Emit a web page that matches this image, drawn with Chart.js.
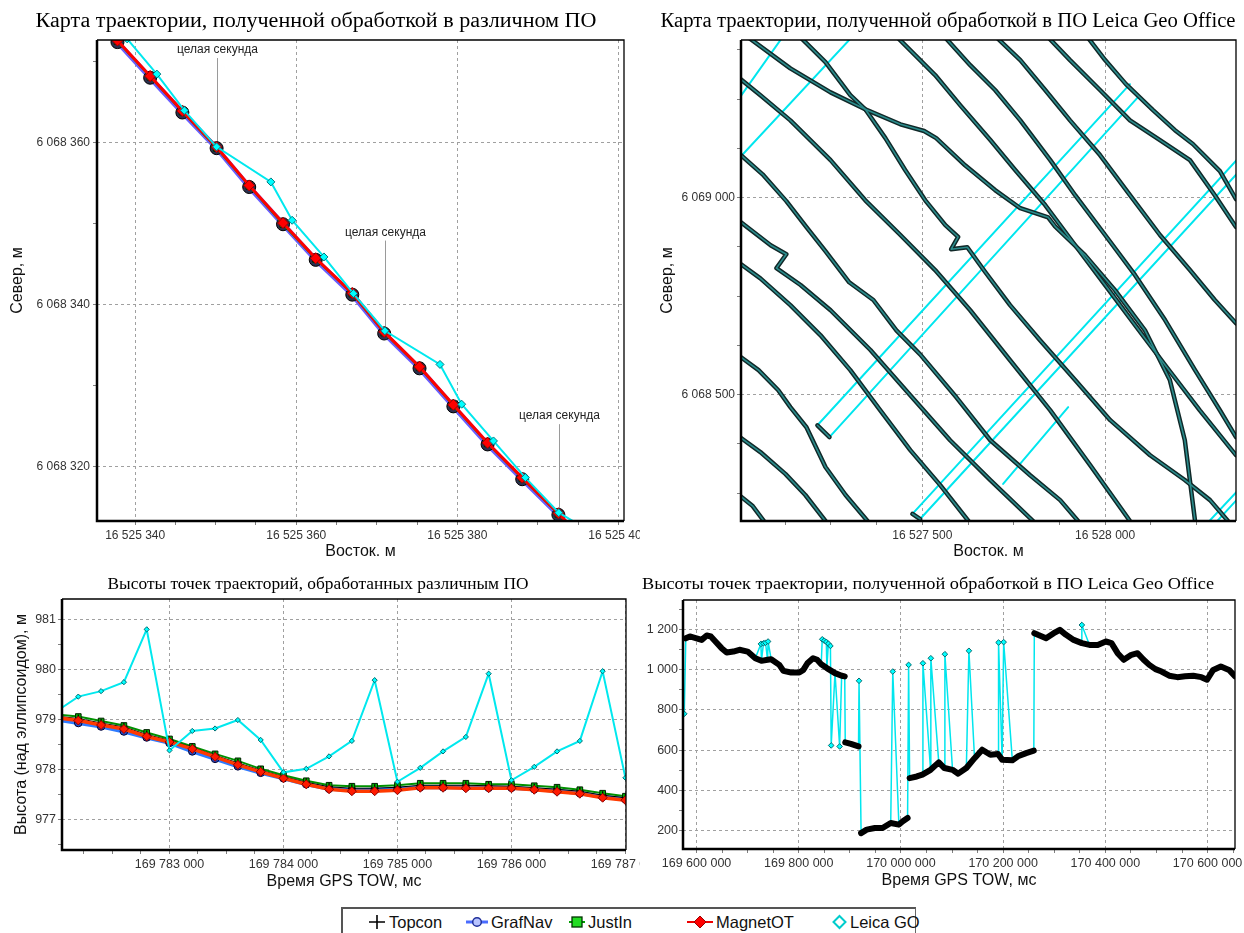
<!DOCTYPE html>
<html><head><meta charset="utf-8">
<script src="https://cdn.jsdelivr.net/npm/chart.js@4.4.1/dist/chart.umd.min.js"></script>
<style>
html,body{margin:0;padding:0;background:#fff;width:1244px;height:933px;overflow:hidden;position:relative;}
.box{position:absolute;overflow:hidden;}
.box canvas{display:block;}
#legend{position:absolute;left:341px;top:907px;width:575px;height:30px;box-sizing:border-box;border:1px solid #666;border-left:2px solid #555;border-top:2px solid #555;font:16.5px 'Liberation Sans',Arial,sans-serif;color:#111;background:#fff;}
#legend .li{position:absolute;top:0;height:26px;display:flex;align-items:center;gap:2px;white-space:nowrap;}
#legend svg{display:block;}
</style></head>
<body>
<div class="box" style="left:0;top:0;width:640px;height:570px"><canvas id="c1" width="670" height="570"></canvas></div>
<div class="box" style="left:640px;top:0;width:604px;height:570px"><canvas id="c2" width="604" height="570"></canvas></div>
<div class="box" style="left:0;top:570px;width:640px;height:330px"><canvas id="c3" width="670" height="330"></canvas></div>
<div class="box" style="left:640px;top:570px;width:604px;height:330px"><canvas id="c4" width="604" height="330"></canvas></div>
<div id="legend">
 <div class="li" style="left:24px"><svg width="20" height="16"><path d="M2 8H18M10 1V15" stroke="#000" stroke-width="1.6"/></svg><span>Topcon</span></div>
 <div class="li" style="left:122px"><svg width="24" height="16"><path d="M1 8H23" stroke="#4a6cff" stroke-width="3"/><circle cx="12" cy="8" r="4.3" fill="#b8c4ff" stroke="#1f2f9a" stroke-width="1.5"/></svg><span>GrafNav</span></div>
 <div class="li" style="left:225px"><svg width="18" height="16"><path d="M1 8H17" stroke="#00a000" stroke-width="2"/><rect x="4" y="3" width="10" height="10" fill="#22dd22" stroke="#003300" stroke-width="1.3"/></svg><span>JustIn</span></div>
 <div class="li" style="left:343px"><svg width="28" height="16"><path d="M1 8H27" stroke="#ee0000" stroke-width="2"/><path d="M14 2L20 8L14 14L8 8Z" fill="#ff0000" stroke="#990000"/></svg><span>MagnetOT</span></div>
 <div class="li" style="left:488px"><svg width="17" height="16"><path d="M8.5 2L14.5 8L8.5 14L2.5 8Z" fill="#fff" stroke="#00cccc" stroke-width="2"/></svg><span>Leica GO</span></div>
</div>
<script>
// ---------------- DATA ----------------
// Chart 1: trajectory map, different software (East / North, m)
const mapEastMain = [16525333.7, 16525337.8, 16525341.86, 16525345.86, 16525350.11, 16525354.16, 16525358.36, 16525362.42, 16525366.96, 16525370.92, 16525375.31, 16525379.51, 16525383.76, 16525388.06, 16525392.55, 16525396.8];
const topconNorth  = [6068377.1, 6068372.6, 6068368.21, 6068363.88, 6068359.46, 6068354.72, 6068350.06, 6068345.73, 6068341.4, 6068336.62, 6068332.29, 6068327.63, 6068322.93, 6068318.64, 6068314.23, 6068309.8];
const grafnavNorth = [6068376.9, 6068372.4, 6068368.0, 6068363.7, 6068359.3, 6068354.5, 6068349.9, 6068345.5, 6068341.2, 6068336.4, 6068332.1, 6068327.4, 6068322.7, 6068318.4, 6068314.0, 6068309.6];
const justinNorth  = [6068377.0, 6068372.5, 6068368.1, 6068363.8, 6068359.3, 6068354.6, 6068349.9, 6068345.6, 6068341.3, 6068336.5, 6068332.2, 6068327.5, 6068322.8, 6068318.5, 6068314.1, 6068309.7];
const magnetNorth  = [6068377.1, 6068372.6, 6068368.2, 6068363.9, 6068359.45, 6068354.7, 6068350.05, 6068345.7, 6068341.4, 6068336.6, 6068332.3, 6068327.6, 6068322.9, 6068318.6, 6068314.2, 6068309.8];
const leicaMapEast  = [16525337.2, 16525339.0, 16525342.69, 16525346.1, 16525350.11, 16525356.85, 16525359.49, 16525363.44, 16525367.1, 16525371.01, 16525377.85, 16525380.54, 16525384.49, 16525388.45, 16525392.6, 16525399.5];
const leicaMapNorth = [6068377.4, 6068372.8, 6068368.45, 6068363.96, 6068359.46, 6068355.13, 6068350.39, 6068345.86, 6068341.34, 6068336.74, 6068332.58, 6068327.67, 6068323.13, 6068318.6, 6068314.27, 6068310.2];
const secondLabel = 'целая секунда';
const secondEast = [16525350.11, 16525371.0, 16525392.6];
const secondLabelNorth = [6068371.42, 6068348.87, 6068326.19];
const secondPointNorth = [6068359.46, 6068336.7, 6068314.25];

// Chart 2: Leica Geo Office trajectory map (dark survey lines)
const lgoTrackEast = [
 [16526989,16527036,16527085],
 [16526989,16527057,16527126,16527180,16527235,16527254],
 [16526989,16527052,16527106,16527139,16527183,16527235,16527290,16527350,16527366],
 [16526989,16527057,16527139,16527221,16527303,16527385,16527467,16527549,16527626,16527645],
 [16526989,16527085,16527128,16527101,16527167,16527249,16527358,16527467,16527576,16527686,16527803,16527822],
 [16526989,16527063,16527128,16527183,16527235,16527300,16527366,16527429,16527494,16527593,16527686,16527795,16527877,16527926,16527945],
 [16526989,16527057,16527139,16527249,16527344,16527440,16527535,16527631,16527740,16527850,16527959,16528068,16528087],
 [16527016,16527139,16527249,16527344,16527440,16527505,16527538,16527617,16527699,16527768,16527844,16527863,16527945,16528027,16528109,16528177,16528218,16528246,16528251],
 [16527161,16527235,16527303,16527344,16527399,16527453,16527508,16527563,16527598,16527579,16527623,16527672,16527740,16527822,16527918,16528014,16528123,16528218,16528287,16528336,16528355],
 [16527426,16527481,16527535,16527604,16527686,16527754,16527836,16527918,16528000,16528082,16528164,16528259,16528358,16528382],
 [16527557,16527631,16527699,16527768,16527850,16527918,16528000,16528082,16528164,16528246,16528314,16528358,16528382],
 [16527697,16527768,16527836,16527904,16527986,16528068,16528150,16528232,16528300,16528358,16528382],
 [16527839,16527904,16527986,16528068,16528150,16528232,16528300,16528358,16528382],
 [16527948,16528000,16528057,16528131,16528191,16528240,16528314,16528358,16528382],
 [16527213,16527246],
 [16527473,16527494]
];
const lgoTrackNorth = [
 [6068252,6068217,6068156],
 [6068400,6068354,6068298,6068245,6068179,6068156],
 [6068605,6068562,6068511,6068468,6068417,6068316,6068245,6068179,6068156],
 [6068841,6068795,6068727,6068651,6068562,6068460,6068359,6068270,6068179,6068156],
 [6068948,6068879,6068856,6068821,6068778,6068714,6068613,6068498,6068384,6068283,6068179,6068156],
 [6069120,6069059,6068991,6068925,6068864,6068785,6068740,6068663,6068602,6068493,6068384,6068295,6068232,6068179,6068156],
 [6069311,6069260,6069196,6069095,6068993,6068905,6068816,6068714,6068587,6068460,6068321,6068179,6068156],
 [6069412,6069328,6069267,6069224,6069186,6069169,6069151,6069082,6069019,6068973,6068950,6068927,6068854,6068765,6068663,6068537,6068384,6068179,6068156],
 [6069412,6069344,6069260,6069224,6069151,6069070,6068993,6068930,6068900,6068869,6068874,6068811,6068727,6068638,6068537,6068435,6068346,6068283,6068232,6068179,6068156],
 [6069412,6069361,6069311,6069234,6069146,6069070,6068981,6068879,6068778,6068676,6068575,6068460,6068346,6068321],
 [6069412,6069336,6069273,6069196,6069095,6069006,6068905,6068803,6068689,6068562,6068460,6068392,6068359],
 [6069412,6069349,6069273,6069196,6069108,6069006,6068905,6068816,6068740,6068681,6068656],
 [6069412,6069349,6069273,6069196,6069146,6069095,6069006,6068925,6068892],
 [6069412,6069349,6069288,6069222,6069171,6069136,6069067,6068996,6068968],
 [6068422,6068392],
 [6068197,6068184]
];
// Chart 2: cross lines (cyan)
const lgoCrossEast = [
 [16526984,16527131],[16526984,16527325],[16527213,16528068],[16527246,16528090],
 [16527473,16528382],[16527494,16528382],[16527721,16527899],[16528259,16528382],[16528281,16528382]
];
const lgoCrossNorth = [
 [6069232,6069425],[6069085,6069425],[6068422,6069288],[6068392,6069255],
 [6068197,6069118],[6068184,6069082],[6068273,6068468],[6068153,6068275],[6068153,6068255]
];

// Chart 3: heights, different software (GPS TOW ms / m)
const towMs = [169782000,169782200,169782400,169782600,169782800,169783000,169783200,169783400,169783600,169783800,169784000,169784200,169784400,169784600,169784800,169785000,169785200,169785400,169785600,169785800,169786000,169786200,169786400,169786600,169786800,169787000];
const hTopcon  = [979.07,979.02,978.93,978.85,978.70,978.58,978.44,978.28,978.13,977.98,977.85,977.74,977.65,977.62,977.62,977.64,977.68,977.68,977.68,977.67,977.66,977.63,977.60,977.56,977.48,977.43];
const hGrafNav = [979.00,978.93,978.86,978.76,978.64,978.53,978.36,978.21,978.06,977.93,977.82,977.70,977.61,977.58,977.59,977.61,977.64,977.64,977.64,977.63,977.63,977.60,977.57,977.52,977.45,977.40];
const hJustIn  = [979.10,979.06,978.97,978.88,978.74,978.61,978.46,978.31,978.17,978.01,977.88,977.77,977.68,977.66,977.66,977.68,977.72,977.72,977.72,977.70,977.70,977.67,977.64,977.59,977.52,977.46];
const hMagnet  = [979.04,978.98,978.89,978.81,978.66,978.55,978.41,978.25,978.09,977.95,977.82,977.70,977.60,977.56,977.56,977.58,977.63,977.63,977.62,977.62,977.62,977.59,977.55,977.51,977.43,977.38];
const hLeica   = [979.15,979.46,979.57,979.75,980.81,978.38,978.77,978.82,978.99,978.59,977.94,978.01,978.26,978.57,979.79,977.75,978.03,978.36,978.65,979.92,977.78,978.05,978.36,978.57,979.97,977.83];

// Chart 4: Leica Geo Office heights (continuous segments, null = break)
const lgoTimes = [169579000,169587000,169600000,169610000,169620000,169628000,169637000,169649000,169659000,169672000,169684000,169700000,169715000,169727000,169739000,169746000,169762000,169770000,169785000,169801000,169809000,169817000,169828000,169836000,169844000,169855000,169871000,169884000,169890000,
 169890500,
 169891000,169902000,169917000,
 169919000,
 169922000,169933000,169949000,169964000,169980000,169996000,170003000,170013000,
 170015500,
 170017000,170031000,170042000,170058000,170074000,170085000,170101000,170112000,170128000,170144000,170159000,170175000,170190000,170198000,170218000,170229000,170245000,170260000,
 170260500,
 170261000,170268000,170284000,170299000,170311000,170323000,170338000,170354000,170369000,170385000,170401000,170412000,170424000,170436000,170451000,170463000,170475000,170486000,170498000,170510000,170525000,170541000,170556000,170572000,170588000,170599000,170611000,170626000,170642000,170654000];
const lgoHeights = [1155,1164,1155,1147,1169,1164,1139,1106,1084,1089,1098,1089,1056,1043,1048,1051,1023,993,985,985,998,1031,1056,1048,1026,1007,982,969,966,
 null,
 638,631,618,
 null,
 188,205,213,213,238,230,246,263,
 null,
 461,469,478,502,539,511,502,483,511,560,602,577,580,552,549,569,585,597,
 null,
 1180,1172,1155,1180,1197,1172,1147,1131,1122,1122,1139,1131,1081,1048,1073,1081,1048,1023,1002,990,969,962,966,969,962,949,998,1015,998,966];
const lgoOutlierTimes   = [169576000,169726000,169731000,169735000,169740000,169846000,169850000,169854000,169858000,169862000,169863500,169880000,169918000,169984000,170015000,170043000,170058500,170086000,170133000,170191000,170201000,170354000];
const lgoOutlierHeights = [780,1127,1130,1133,1139,1150,1143,1137,1128,1117,623,618,944,990,1023,1031,1056,1076,1093,1134,1136,1221];

// ---------------- HELPERS ----------------
const SANS = "'Liberation Sans', Arial, sans-serif";
const SERIF = "'Liberation Serif', 'Times New Roman', serif";
Chart.defaults.font.family = SANS;
const fmt = v => String(Math.round(v)).replace(/\B(?=(\d{3})+(?!\d))/g, ' ');
const isMajor = (v, m) => Math.abs(v / m - Math.round(v / m)) < 1e-6;
const zip = (xs, ys) => xs.map((x, i) => ({x, y: ys[i]}));

function axis(o) {
  return {
    type: 'linear', min: o.min, max: o.max,
    afterFit: s => { if (o.horizontal) s.height = o.size; else s.width = o.size; },
    afterBuildTicks: s => {
      const t = [];
      const n0 = Math.ceil(o.min / o.step - 1e-9), n1 = Math.floor(o.max / o.step + 1e-9);
      for (let n = n0; n <= n1; n++) t.push({value: +(n * o.step).toFixed(6)});
      s.ticks = t;
    },
    ticks: { autoSkip: false, maxRotation: 0, minRotation: 0,
      padding: o.pad, color: '#333', font: {family: SANS, size: o.fs || 12},
      callback: v => isMajor(v, o.major) ? fmt(v) : '' },
    grid: { color: c => (c.tick && isMajor(c.tick.value, o.major)) ? '#a0a0a0' : 'rgba(0,0,0,0)',
      lineWidth: 1, tickLength: 4, tickColor: '#808080', drawTicks: true },
    border: { display: false, dash: [3, 3] },
    title: o.title ? { display: true, text: o.title, color: '#111', font: {family: SANS, size: 16},
      padding: o.horizontal ? {top: 0, bottom: o.tpad} : {top: o.tpad, bottom: 0} } : {display: false}
  };
}

const captionPlugin = {
  id: 'caption',
  afterDraw(chart, args, opts) {
    if (!opts || !opts.text) return;
    const ctx = chart.ctx;
    ctx.save();
    ctx.font = opts.font;
    ctx.fillStyle = '#000';
    ctx.textBaseline = 'middle';
    ctx.textAlign = 'left';
    const w = ctx.measureText(opts.text).width;
    ctx.translate(opts.x - opts.width / 2, opts.y);
    ctx.scale(opts.width / w, 1);
    ctx.fillText(opts.text, 0, 0);
    ctx.restore();
  }
};
const framePlugin = {
  id: 'frame',
  afterDatasetsDraw(chart, args, opts) {
    const {ctx, chartArea: a} = chart;
    ctx.save();
    ctx.strokeStyle = '#000';
    ctx.lineWidth = 1.3;
    ctx.beginPath(); ctx.moveTo(a.left, a.top); ctx.lineTo(a.right, a.top); ctx.lineTo(a.right, a.bottom); ctx.stroke();
    ctx.lineWidth = 2.5;
    ctx.beginPath(); ctx.moveTo(a.left, a.top); ctx.lineTo(a.left, a.bottom); ctx.lineTo(a.right, a.bottom); ctx.stroke();
    ctx.restore();
  }
};
const secondPlugin = {
  id: 'secondMarks',
  beforeDatasetsDraw(chart) {
    const xs = chart.scales.x, ys = chart.scales.y, ctx = chart.ctx;
    ctx.save();
    ctx.font = `12px ${SANS}`; ctx.textAlign = 'center'; ctx.textBaseline = 'middle';
    for (let i = 0; i < secondEast.length; i++) {
      const px = Math.round(xs.getPixelForValue(secondEast[i])) + 0.5;
      const ly = ys.getPixelForValue(secondLabelNorth[i]);
      const py = ys.getPixelForValue(secondPointNorth[i]);
      ctx.strokeStyle = '#9a9a9a'; ctx.lineWidth = 1;
      ctx.beginPath(); ctx.moveTo(px, ly + 8); ctx.lineTo(px, py); ctx.stroke();
      ctx.fillStyle = '#222'; ctx.fillText(secondLabel, px, ly);
    }
    ctx.restore();
  }
};
const common = {
  responsive: false, animation: false, devicePixelRatio: 1, events: [],
};

// ---------------- CHART 1 ----------------
new Chart(document.getElementById('c1'), {
  type: 'line',
  data: { datasets: [
    {label: 'Leica GO', data: zip(leicaMapEast, leicaMapNorth), borderColor: '#00e8ee', borderWidth: 2, pointStyle: 'rectRot', pointRadius: 4, pointBackgroundColor: '#00ffff', pointBorderColor: '#007a80', pointBorderWidth: 1, order: 1},
    {label: 'MagnetOT', data: zip(mapEastMain, magnetNorth), borderColor: '#ff0000', borderWidth: 3, pointStyle: 'rectRot', pointRadius: 5.5, pointBackgroundColor: '#ff0000', pointBorderColor: '#a00000', pointBorderWidth: 1, order: 2},
    {label: 'JustIn', data: zip(mapEastMain, justinNorth), borderColor: '#00a000', borderWidth: 2, pointStyle: 'rect', pointRadius: 4.5, pointBackgroundColor: '#00c000', pointBorderColor: '#002800', pointBorderWidth: 1, order: 3},
    {label: 'Topcon', data: zip(mapEastMain, topconNorth), borderColor: '#000', borderWidth: 1, pointStyle: 'cross', pointRadius: 5, pointBorderColor: '#000', pointBorderWidth: 1.2, order: 4},
    {label: 'GrafNav', data: zip(mapEastMain, grafnavNorth), borderColor: '#6a5cff', borderWidth: 5, pointStyle: 'circle', pointRadius: 6.5, pointBackgroundColor: '#2b3050', pointBorderColor: '#000', pointBorderWidth: 1, order: 5}
  ]},
  options: Object.assign({}, common, {
    layout: {padding: {top: 40, left: 0, right: 46, bottom: 0}},
    scales: {
      x: axis({horizontal: true, min: 16525335.26, max: 16525400.7, step: 5, major: 20, size: 49, pad: 3, title: 'Восток. м', tpad: 8.4}),
      y: axis({min: 6068313.24, max: 6068372.66, step: 10, major: 20, size: 97, pad: 3, title: 'Север, м', tpad: 8.4})
    },
    plugins: {legend: {display: false}, tooltip: {enabled: false},
      caption: {text: 'Карта траектории, полученной обработкой в различном ПО', x: 316, y: 22, width: 561, font: `20px ${SERIF}`}}
  }),
  plugins: [captionPlugin, framePlugin, secondPlugin]
});

// ---------------- CHART 2 ----------------
const ds2 = [];
lgoTrackEast.forEach((e, i) => {
  ds2.push({label: 'Leica GO', data: zip(e, lgoTrackNorth[i]), borderColor: '#2b8c8c', borderWidth: 1.6, pointRadius: 0, order: 1});
  ds2.push({label: 'Leica GO', data: zip(e, lgoTrackNorth[i]), borderColor: '#102828', borderWidth: 4.5, pointRadius: 0, order: 2});
});
lgoCrossEast.forEach((e, i) => {
  ds2.push({label: 'Leica GO', data: zip(e, lgoCrossNorth[i]), borderColor: '#00e6ee', borderWidth: 2, pointRadius: 0, order: 3});
});
new Chart(document.getElementById('c2'), {
  type: 'scatter',
  data: {datasets: ds2.map(d => Object.assign({showLine: true, tension: 0, borderJoinStyle: 'round', borderCapStyle: 'round'}, d))},
  options: Object.assign({}, common, {
    layout: {padding: {top: 40, left: 0, right: 8, bottom: 0}},
    scales: {
      x: axis({horizontal: true, min: 16527004, max: 16528358, step: 125, major: 500, size: 49, pad: 3, title: 'Восток. м', tpad: 8.4}),
      y: axis({min: 6068179, max: 6069400, step: 125, major: 500, size: 101, pad: 2, title: 'Север, м', tpad: 18.4})
    },
    plugins: {legend: {display: false}, tooltip: {enabled: false},
      caption: {text: 'Карта траектории, полученной обработкой в ПО Leica Geo Office', x: 308, y: 22, width: 575, font: `20px ${SERIF}`}}
  }),
  plugins: [captionPlugin, framePlugin]
});

// ---------------- CHART 3 ----------------
new Chart(document.getElementById('c3'), {
  type: 'line',
  data: { datasets: [
    {label: 'Leica GO', data: zip(towMs, hLeica), borderColor: '#00e8ee', borderWidth: 2, pointStyle: 'rectRot', pointRadius: 2.6, pointBackgroundColor: '#00ffff', pointBorderColor: '#006c70', pointBorderWidth: 1, order: 1},
    {label: 'MagnetOT', data: zip(towMs, hMagnet), borderColor: '#ff3a00', borderWidth: 3.5, pointStyle: 'rectRot', pointRadius: 4.5, pointBackgroundColor: '#ff1a00', pointBorderColor: '#8a0000', pointBorderWidth: 1, order: 2},
    {label: 'Topcon', data: zip(towMs, hTopcon), borderColor: '#000', borderWidth: 1, pointStyle: 'cross', pointRadius: 4, pointBorderColor: '#000', pointBorderWidth: 1.2, order: 3},
    {label: 'JustIn', data: zip(towMs, hJustIn), borderColor: '#009000', borderWidth: 2, pointStyle: 'rect', pointRadius: 4, pointBackgroundColor: '#00b000', pointBorderColor: '#002000', pointBorderWidth: 1, order: 4},
    {label: 'GrafNav', data: zip(towMs, hGrafNav), borderColor: '#2e7bff', borderWidth: 4, pointStyle: 'circle', pointRadius: 3.8, pointBackgroundColor: '#2050d0', pointBorderColor: '#000030', pointBorderWidth: 1, order: 5}
  ]},
  options: Object.assign({}, common, {
    layout: {padding: {top: 29, left: 0, right: 44, bottom: 0}},
    scales: {
      x: axis({horizontal: true, min: 169782057, max: 169787005, step: 250, major: 1000, size: 50, pad: 3, fs: 12.5, title: 'Время GPS TOW, мс', tpad: 8.4}),
      y: axis({min: 976.38, max: 981.42, step: 0.5, major: 1, size: 62, pad: 2, fs: 12.5, title: 'Высота (над эллипсоидом), м', tpad: 12.4})
    },
    plugins: {legend: {display: false}, tooltip: {enabled: false},
      caption: {text: 'Высоты точек траекторий, обработанных различным ПО', x: 318, y: 15, width: 421, font: `17px ${SERIF}`}}
  }),
  plugins: [captionPlugin, framePlugin]
});

// ---------------- CHART 4 ----------------
const lgoTrack = lgoTimes.map((t, i) => ({x: t, y: lgoHeights[i]}));
const lgoFull = lgoTrack.filter(p => p.y !== null).map(p => ({x: p.x, y: p.y, tip: false}))
  .concat(lgoOutlierTimes.map((t, i) => ({x: t, y: lgoOutlierHeights[i], tip: true})))
  .sort((a, b) => a.x - b.x);
new Chart(document.getElementById('c4'), {
  type: 'line',
  data: { datasets: [
    {label: 'Leica GO', data: lgoTrack, borderColor: '#000', borderWidth: 6, pointRadius: 0, spanGaps: false, borderJoinStyle: 'round', borderCapStyle: 'round', order: 1},
    {label: 'Leica GO', data: lgoFull, borderColor: '#00e6ee', borderWidth: 1.5, pointStyle: 'rectRot',
      pointRadius: c => (c.raw && c.raw.tip) ? 2.8 : 0, pointBackgroundColor: '#00ffff', pointBorderColor: '#006c70', pointBorderWidth: 1, order: 2}
  ]},
  options: Object.assign({}, common, {
    layout: {padding: {top: 30, left: 0, right: 9, bottom: 0}},
    scales: {
      x: axis({horizontal: true, min: 169573520, max: 170653700, step: 50000, major: 200000, size: 51, pad: 3, fs: 12.5, title: 'Время GPS TOW, мс', tpad: 9.4}),
      y: axis({min: 109, max: 1345, step: 100, major: 200, size: 43, pad: 1, fs: 12.5})
    },
    plugins: {legend: {display: false}, tooltip: {enabled: false},
      caption: {text: 'Высоты точек траектории, полученной обработкой в ПО Leica Geo Office', x: 288, y: 15, width: 572, font: `17px ${SERIF}`}}
  }),
  plugins: [captionPlugin, framePlugin]
});
</script>
</body></html>
